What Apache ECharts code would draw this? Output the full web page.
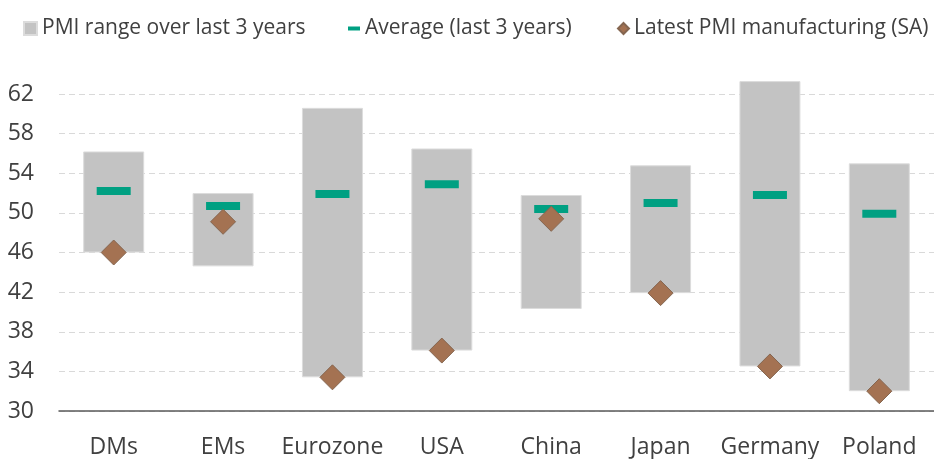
<!DOCTYPE html>
<html>
<head>
<meta charset="utf-8">
<script src="https://cdn.jsdelivr.net/npm/echarts@6/dist/echarts.min.js"></script>
<style>
  html, body { margin: 0; padding: 0; background: #fff; }
  #main { width: 934px; height: 459px; }
</style>
</head>
<body>
<div id="main"></div>
<script>
// data
var categories = ['DMs', 'EMs', 'Eurozone', 'USA', 'China', 'Japan', 'Germany', 'Poland'];
var rangeLow  = [46.0, 44.6, 33.4, 36.1, 40.3, 41.9, 34.5, 32.0];
var rangeHigh = [56.2, 52.0, 60.6, 56.5, 51.8, 54.8, 63.3, 55.0];
var average   = [52.2, 50.7, 51.9, 52.9, 50.4, 51.0, 51.8, 49.9];
var latest    = [46.0, 49.1, 33.4, 36.1, 49.4, 41.9, 34.5, 32.0];

var rangeSpan = rangeHigh.map(function (h, i) { return +(h - rangeLow[i]).toFixed(2); });

var font = 'Open Sans';
var textColor = '#404040';
var legendText = { fontFamily: font, fontSize: 21, color: textColor };

var option = {
  animation: false,
  backgroundColor: '#fff',
  grid: { left: 59, right: -5, top: 94, bottom: 48, containLabel: false },
  legend: [
    {
      left: 18, top: 13, itemWidth: 13, itemHeight: 13, itemGap: 0,
      textStyle: legendText,
      data: [{ name: 'PMI range over last 3 years', icon: 'rect' }]
    },
    {
      left: 343, top: 13, itemWidth: 12, itemHeight: 4, itemGap: 0,
      textStyle: legendText,
      data: [{ name: 'Average (last 3 years)', icon: 'rect' }]
    },
    {
      left: 612, top: 13, itemWidth: 11, itemHeight: 11, itemGap: 0,
      textStyle: legendText,
      data: [{ name: 'Latest PMI manufacturing (SA)', icon: 'diamond' }]
    }
  ],
  xAxis: {
    type: 'category',
    data: categories,
    axisLine: { lineStyle: { color: '#595959', width: 1.5 } },
    axisTick: { show: false },
    axisLabel: { interval: 0, fontFamily: font, fontSize: 23, color: textColor, margin: 25 }
  },
  yAxis: {
    type: 'value',
    min: 30,
    max: 62,
    interval: 4,
    axisLine: { show: false },
    axisTick: { show: false },
    axisLabel: { fontFamily: font, fontSize: 23, color: textColor, margin: 25 },
    splitLine: { lineStyle: { color: '#d9d9d9', type: [6, 4], width: 1 } }
  },
  series: [
    {
      name: 'base',
      type: 'bar',
      stack: 'range',
      data: rangeLow,
      barWidth: 61,
      itemStyle: { color: 'transparent' },
      silent: true
    },
    {
      name: 'PMI range over last 3 years',
      type: 'bar',
      stack: 'range',
      data: rangeSpan,
      barWidth: 61,
      clip: false,
      itemStyle: { color: '#c3c3c3', borderColor: '#dcdcdc', borderWidth: 1 }
    },
    {
      name: 'Average (last 3 years)',
      type: 'scatter',
      data: average,
      symbol: 'rect',
      symbolSize: [34, 8],
      itemStyle: { color: '#00a082', opacity: 1 },
      z: 3
    },
    {
      name: 'Latest PMI manufacturing (SA)',
      type: 'scatter',
      data: latest,
      symbol: 'diamond',
      symbolSize: [25, 25],
      itemStyle: { color: '#a47252', borderColor: '#856650', borderWidth: 1, opacity: 1 },
      z: 4
    }
  ]
};

var chart = echarts.init(document.getElementById('main'));
chart.setOption(option);
</script>
</body>
</html>
